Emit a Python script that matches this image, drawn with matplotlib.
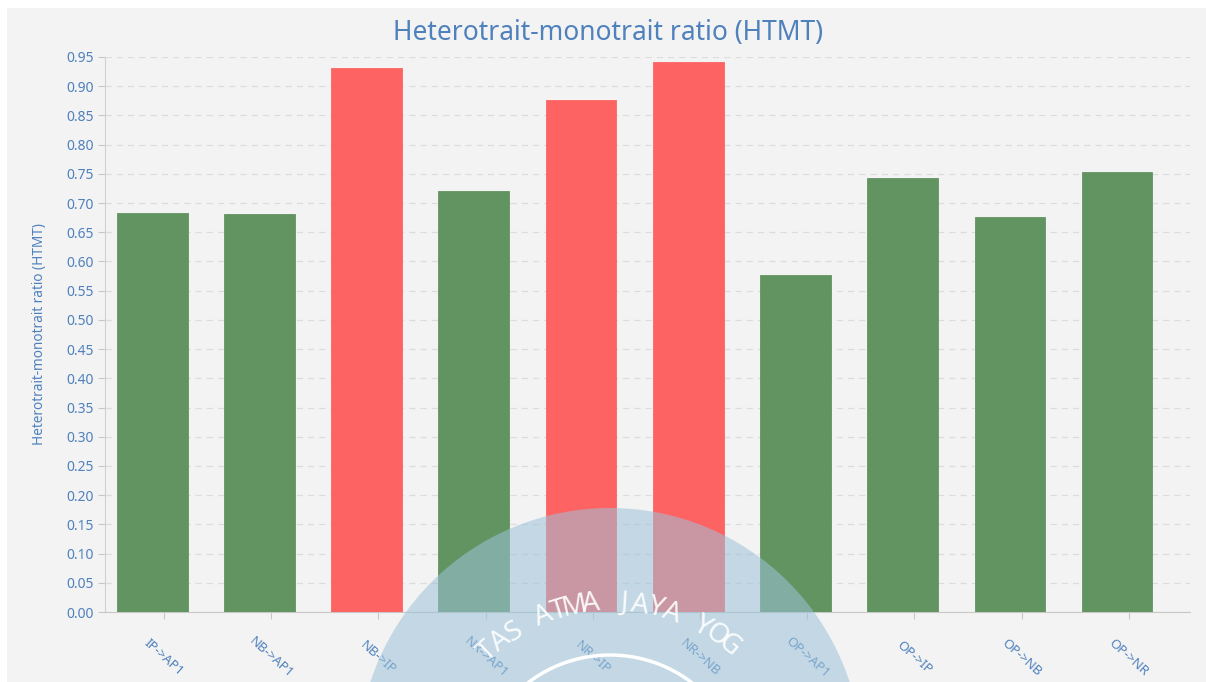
import numpy as np
import matplotlib.pyplot as plt
from matplotlib.patches import Rectangle, Circle, Arc

# dati
categories = ["IP->AP1", "NB->AP1", "NB->IP", "NR->AP1", "NR->IP",
              "NR->NB", "OP->AP1", "OP->IP", "OP->NB", "OP->NR"]
htmt = [0.683, 0.681, 0.931, 0.721, 0.876, 0.941, 0.577, 0.743, 0.676, 0.753]
threshold = 0.85

green = "#629462"
red = "#fe6363"
blue = "#4f81bd"

plt.rcParams['font.family'] = ['Noto Sans', 'DejaVu Sans']

W, H = 1206, 682
fig = plt.figure(figsize=(W / 100, H / 100), dpi=100, facecolor="white")

# pannello grigio di sfondo
px = fig.dpi_scale_trans
fig.patches.append(Rectangle((7 / 100, 0), (W - 7) / 100, (H - 8) / 100,
                             transform=px, facecolor="#f3f3f3",
                             edgecolor="none", zorder=-5))

ax = fig.add_axes([105 / W, 1 - 612 / H, (1190 - 105) / W, (612 - 57) / H])
ax.set_zorder(1)
ax.set_facecolor("#f3f3f3")

x = np.arange(len(categories))
colors = [red if v > threshold else green for v in htmt]
# le barre nel grafico originale sono leggermente spostate a sinistra del tick
ax.bar(x - 0.11, htmt, width=0.66, color=colors, edgecolor=colors, linewidth=0.6, zorder=3)

ax.set_xlim(-0.55, 9.57)
ax.set_ylim(0, 0.95)
yt = np.arange(0, 0.951, 0.05)
ax.set_yticks(yt)
ax.set_yticklabels([f"{v:.2f}" for v in yt])
ax.grid(axis="y", color="#dcdcdc", linestyle=(0, (5, 4)), linewidth=0.9, zorder=0)

for s in ["top", "right"]:
    ax.spines[s].set_visible(False)
ax.spines["left"].set_color("#d0d0d0")
ax.spines["bottom"].set_color("#c8c8c8")

ax.tick_params(axis="y", colors="#c8c8c8", labelcolor=blue, labelsize=10,
               length=5, pad=3)
ax.tick_params(axis="x", colors="#c8c8c8", labelcolor=blue, labelsize=9.5,
               length=5, pad=28)
ax.set_xticks(x)
ax.set_xticklabels(categories, rotation=-42, ha="center", va="center")

ax.set_ylabel("Heterotrait-monotrait ratio (HTMT)", color=blue, fontsize=9.8)
ax.yaxis.set_label_coords(-58 / (1190 - 105), 0.5)

fig.text(608 / W, 1 - 33 / H, "Heterotrait-monotrait ratio (HTMT)",
         ha="center", va="center", color=blue, fontsize=19)

# filigrana (logo)
cx, cy, r = 610, 760, 252
fig.patches.append(Circle((cx / 100, (H - cy) / 100), r / 100, transform=px,
                          facecolor="#9cc2d9", alpha=0.55, edgecolor="none", zorder=5))
fig.patches.append(Arc((cx / 100, (H - 790) / 100), 2.7, 2.7, transform=px,
                       theta1=40, theta2=140, color="white", linewidth=2.5, zorder=6))
wm = "TAS ATMA JAYA YOG"
tr = 182
angles = np.linspace(133, 50, len(wm))
for ch, a in zip(wm, angles):
    t = np.deg2rad(a)
    xx = 612 + tr * np.cos(t)
    yy = 785 - tr * np.sin(t)
    fig.text(xx / W, 1 - yy / H, ch, color="white", fontsize=20, alpha=0.9,
             rotation=a - 90, ha="center", va="center", zorder=7)

fig.savefig("out.png", dpi=100, facecolor="white")
